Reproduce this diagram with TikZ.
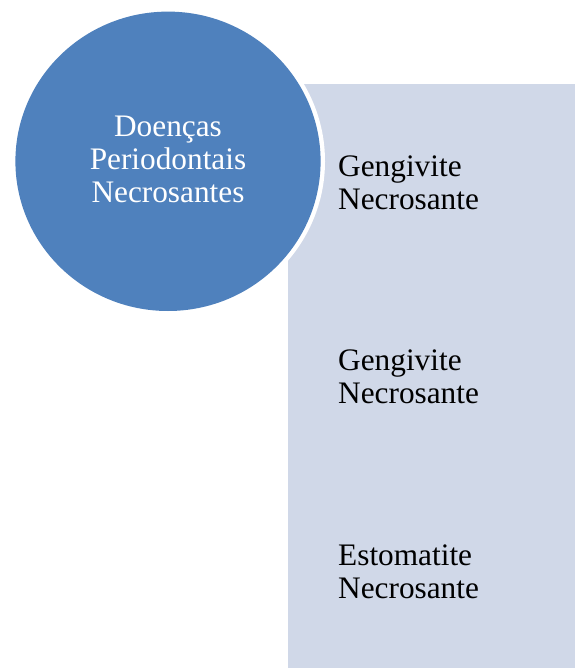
\documentclass[tikz,border=0pt]{standalone}
\usepackage{fontspec}
\setmainfont{Liberation Serif}
\definecolor{circblue}{HTML}{4F81BD}
\definecolor{panel}{HTML}{D0D8E8}
\tikzset{
  itemtext/.style={anchor=base west, align=left, inner sep=0pt, text=black,
    font=\fontsize{31.3}{33}\selectfont},
  circtext/.style={anchor=base, align=center, inner sep=0pt, text=white,
    font=\fontsize{31.3}{33}\selectfont}
}
\begin{document}
\begin{tikzpicture}[x=1pt,y=-1pt]
\useasboundingbox (0,0) rectangle (575,668);
\fill[panel] (288,84) rectangle (575,668);
\fill[white] (168,161.3) ellipse [x radius=157, y radius=154];
\fill[circblue] (168,161.3) ellipse [x radius=152.6, y radius=149.7];
\node[circtext] (main) at (168,203) {Doenças\\Periodontais\\Necrosantes};
\node[itemtext] (i1) at (338,210) {Gengivite\\Necrosante};
\node[itemtext] (i2) at (338,403) {Gengivite\\Necrosante};
\node[itemtext] (i3) at (338,598) {Estomatite\\Necrosante};
\end{tikzpicture}
\end{document}
